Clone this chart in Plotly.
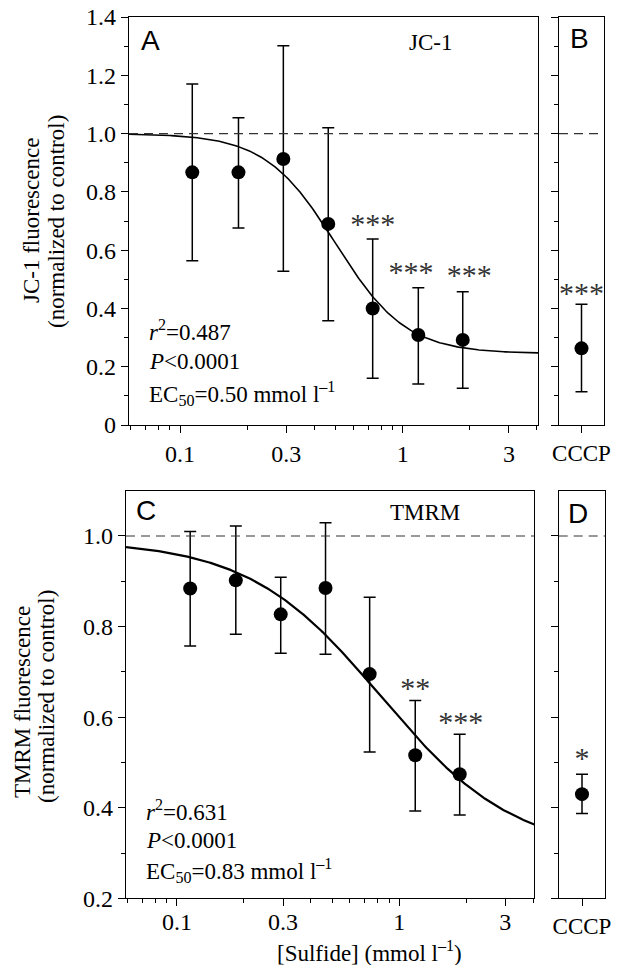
import numpy as np
import plotly.graph_objects as go

# ---------------- data ----------------
conc_A = [0.1135, 0.183, 0.291, 0.463, 0.733, 1.175, 1.86]
mean_A = [0.867, 0.867, 0.913, 0.690, 0.400, 0.309, 0.292]
upper_A = [1.170, 1.054, 1.301, 1.020, 0.638, 0.471, 0.457]
lower_A = [0.564, 0.676, 0.528, 0.358, 0.160, 0.141, 0.126]
star_x_A = [0.733, 1.09, 1.99]
star_y_A = [0.680, 0.515, 0.505]
star_t_A = ["***", "***", "***"]

cccp_B = [0.263]
upper_B = [0.414]
lower_B = [0.114]
star_y_B = [0.446]
star_t_B = ["***"]

conc_C = [0.1147, 0.184, 0.293, 0.466, 0.736, 1.18, 1.87]
mean_C = [0.884, 0.902, 0.827, 0.885, 0.695, 0.516, 0.474]
upper_C = [1.010, 1.022, 0.909, 1.029, 0.865, 0.637, 0.562]
lower_C = [0.757, 0.783, 0.741, 0.739, 0.523, 0.393, 0.384]
star_x_C = [1.18, 1.89]
star_y_C = [0.659, 0.584]
star_t_C = ["**", "***"]

cccp_D = [0.430]
upper_D = [0.474]
lower_D = [0.3875]
star_y_D = [0.505]
star_t_D = ["*"]

# fitted sigmoid parameters (top, bottom, EC50, Hill slope)
fit_A = dict(top=1.0, bottom=0.245, ec50=0.50, hill=2.75)
fit_C = dict(top=0.99, bottom=0.30, ec50=0.83, hill=1.45)

x_ticks = [0.1, 0.3, 1, 3]
x_ticktext = ["0.1", "0.3", "1", "3"]
x_minor = [0.06, 0.07, 0.08, 0.09, 0.2, 0.4, 0.5, 0.6, 0.7, 0.8, 0.9, 2, 4]
yA_ticks = [0, 0.2, 0.4, 0.6, 0.8, 1.0, 1.2, 1.4]
yA_ticktext = ["0", "0.2", "0.4", "0.6", "0.8", "1.0", "1.2", "1.4"]
yA_minor = [0.1, 0.3, 0.5, 0.7, 0.9, 1.1, 1.3]
yC_ticks = [0.2, 0.4, 0.6, 0.8, 1.0]
yC_ticktext = ["0.2", "0.4", "0.6", "0.8", "1.0"]
yC_minor = [0.3, 0.5, 0.7, 0.9]

X_RANGE = [0.059, 4.05]

FONT = "Liberation Serif"
W, H = 619, 965


def sigmoid(x, p):
    return p["bottom"] + (p["top"] - p["bottom"]) / (1 + (x / p["ec50"]) ** p["hill"])


def px_x(v):
    return v / W


def px_y(v):
    return 1 - v / H


fig = go.Figure()

def err(mean, up, lo):
    return dict(type="data", symmetric=False,
                array=[u - m for u, m in zip(up, mean)],
                arrayminus=[m - l for m, l in zip(mean, lo)],
                color="black", thickness=1.5, width=6)

marker = dict(color="black", size=14)
xs = np.logspace(np.log10(X_RANGE[0]), np.log10(X_RANGE[1]), 300)
STAR_FONT = dict(family=FONT, size=30, color="#333")

# Panel A
fig.add_trace(go.Scatter(x=xs, y=sigmoid(xs, fit_A), mode="lines",
                         line=dict(color="black", width=1.6), xaxis="x", yaxis="y"))
fig.add_trace(go.Scatter(x=conc_A, y=mean_A, mode="markers", marker=marker,
                         error_y=err(mean_A, upper_A, lower_A), xaxis="x", yaxis="y"))
fig.add_trace(go.Scatter(x=star_x_A, y=star_y_A, text=star_t_A, mode="text",
                         textfont=STAR_FONT, xaxis="x", yaxis="y"))
# Panel B
fig.add_trace(go.Scatter(x=[0.5], y=cccp_B, mode="markers", marker=marker,
                         error_y=err(cccp_B, upper_B, lower_B), xaxis="x2", yaxis="y2"))
fig.add_trace(go.Scatter(x=[0.5], y=star_y_B, text=star_t_B, mode="text",
                         textfont=STAR_FONT, xaxis="x2", yaxis="y2"))
# Panel C
fig.add_trace(go.Scatter(x=xs, y=sigmoid(xs, fit_C), mode="lines",
                         line=dict(color="black", width=2.2), xaxis="x3", yaxis="y3"))
fig.add_trace(go.Scatter(x=conc_C, y=mean_C, mode="markers", marker=marker,
                         error_y=err(mean_C, upper_C, lower_C), xaxis="x3", yaxis="y3"))
fig.add_trace(go.Scatter(x=star_x_C, y=star_y_C, text=star_t_C, mode="text",
                         textfont=STAR_FONT, xaxis="x3", yaxis="y3"))
# Panel D
fig.add_trace(go.Scatter(x=[0.5], y=cccp_D, mode="markers", marker=marker,
                         error_y=err(cccp_D, upper_D, lower_D), xaxis="x4", yaxis="y4"))
fig.add_trace(go.Scatter(x=[0.5], y=star_y_D, text=star_t_D, mode="text",
                         textfont=STAR_FONT, xaxis="x4", yaxis="y4"))

axis_common = dict(showline=True, linecolor="black", linewidth=1.3, mirror=True,
                   showgrid=False, zeroline=False, ticks="outside", tickcolor="black",
                   tickwidth=1.2, ticklen=7, automargin=False,
                   tickfont=dict(family=FONT, size=24, color="black"))

def xlog(domain, anchor, standoff=0):
    return dict(axis_common, type="log", domain=domain, anchor=anchor,
                range=[np.log10(X_RANGE[0]), np.log10(X_RANGE[1])],
                tickmode="array", tickvals=x_ticks, ticktext=x_ticktext,
                ticklabelstandoff=standoff,
                minor=dict(tickmode="array", tickvals=x_minor, ticks="outside",
                           ticklen=4, tickcolor="black", tickwidth=1.2, showgrid=False))

def xcat(domain, anchor):
    return dict(axis_common, domain=domain, anchor=anchor, range=[0, 1],
                tickmode="array", tickvals=[0.5], ticktext=["CCCP"],
                tickfont=dict(family=FONT, size=23, color="black"))

def yax(domain, anchor, rng, tv, tt, mv, labels=True):
    return dict(axis_common, domain=domain, anchor=anchor, range=rng,
                tickmode="array", tickvals=tv, ticktext=tt, showticklabels=labels,
                minor=dict(tickmode="array", tickvals=mv, ticks="outside",
                           ticklen=4, tickcolor="black", tickwidth=1.2, showgrid=False))

yAB = [px_y(425), px_y(17)]
yCD = [px_y(898.3), px_y(490.7)]

fig.update_layout(
    width=W, height=H, margin=dict(l=0, r=0, t=0, b=0, autoexpand=False),
    paper_bgcolor="white", plot_bgcolor="white", showlegend=False,
    font=dict(family=FONT, size=22, color="black"),
    xaxis=xlog([px_x(129), px_x(538)], "y"),
    yaxis=yax(yAB, "x", [0, 1.4], yA_ticks, yA_ticktext, yA_minor),
    xaxis2=xcat([px_x(559), px_x(604)], "y2"),
    yaxis2=yax(yAB, "x2", [0, 1.4], yA_ticks, yA_ticktext, yA_minor, labels=False),
    xaxis3=xlog([px_x(126), px_x(534.3)], "y3", standoff=-5),
    yaxis3=yax(yCD, "x3", [0.2, 1.1], yC_ticks, yC_ticktext, yC_minor),
    xaxis4=xcat([px_x(558.7), px_x(605.3)], "y4"),
    yaxis4=yax(yCD, "x4", [0.2, 1.1], yC_ticks, yC_ticktext, yC_minor, labels=False),
)

# dashed control lines
for xa, ya in [("x", "y"), ("x2", "y2"), ("x3", "y3"), ("x4", "y4")]:
    fig.add_shape(type="line", xref=f"{xa} domain", yref=ya, x0=0, x1=1, y0=1, y1=1,
                  line=dict(color="#333", width=1.2, dash="9px,6px"))

def ann(text, x, y, size=23, family=FONT, xanchor="center", angle=0):
    fig.add_annotation(text=text, x=px_x(x), y=px_y(y), xref="paper", yref="paper",
                       showarrow=False, xanchor=xanchor, yanchor="middle",
                       textangle=angle, font=dict(family=family, size=size, color="black"))

# panel letters and dye labels
ann("A", 150, 40, size=28, family="Liberation Sans")
ann("B", 579, 39, size=28, family="Liberation Sans")
ann("C", 146, 510, size=28, family="Liberation Sans")
ann("D", 578, 513, size=28, family="Liberation Sans")
ann("JC-1", 430, 42)
ann("TMRM", 425, 512)

# stats
ann("<i>r</i><sup>2</sup>=0.487", 147, 331, xanchor="left")
ann("<i>P</i><0.0001", 147, 361, xanchor="left")
ann("EC<sub>50</sub>=0.50 mmol l<sup>–1</sup>", 147, 393, xanchor="left")
ann("<i>r</i><sup>2</sup>=0.631", 144, 810, xanchor="left")
ann("<i>P</i><0.0001", 144, 840, xanchor="left")
ann("EC<sub>50</sub>=0.83 mmol l<sup>–1</sup>", 144, 870, xanchor="left")

# axis titles
ann("JC-1 fluorescence", 32, 221, angle=-90)
ann("(normalized to control)", 56, 222, angle=-90)
ann("TMRM fluorescence", 22, 702, angle=-90)
ann("(normalized to control)", 46, 697, angle=-90)
ann("[Sulfide] (mmol l<sup>–1</sup>)", 369, 951)

fig.write_html("out.html", config={"displayModeBar": False},
               post_script="document.body.style.margin='0';document.body.style.overflow='hidden';")
